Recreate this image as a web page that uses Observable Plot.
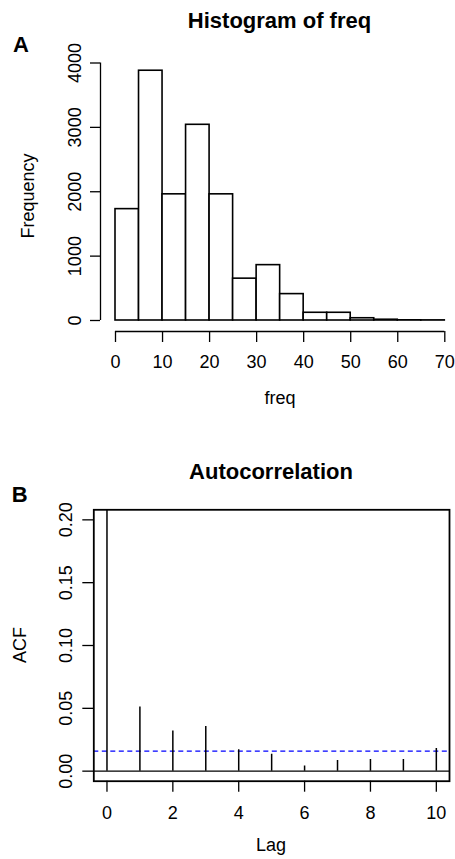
<!DOCTYPE html>
<html>
<head>
<meta charset="utf-8">
<script src="https://cdn.jsdelivr.net/npm/d3@7"></script>
<script src="https://cdn.jsdelivr.net/npm/@observablehq/plot@0.6"></script>
<style>
  html, body { margin: 0; padding: 0; background: #fff; }
  #wrap { position: relative; width: 455px; height: 859px; overflow: hidden;
          font-family: "Liberation Sans", Arial, Helvetica, sans-serif; color: #000; }
  .panel { position: absolute; left: 0; }
  .txt { position: absolute; white-space: nowrap; line-height: 1; }
  .title { font-weight: bold; font-size: 22px; transform: translateX(-50%); }
  .tag { font-weight: bold; font-size: 22px; }
  .xlab { font-size: 18px; transform: translateX(-50%); }
  .ylab { font-size: 18px; transform: translate(-50%, -50%) rotate(-90deg); }
</style>
</head>
<body>
<div id="wrap"></div>
<script>
// ---- Panel A: histogram of freq ----
const histBreaks = [0, 5, 10, 15, 20, 25, 30, 35, 40, 45, 50, 55, 60, 65, 70];
const histCounts = [1730, 3880, 1960, 3040, 1960, 650, 860, 410, 120, 120, 35, 12, 3, 2];
const histXTicks = [0, 10, 20, 30, 40, 50, 60, 70];
const histYTicks = [0, 1000, 2000, 3000, 4000];

// ---- Panel B: autocorrelation ----
const acfLags = [0, 1, 2, 3, 4, 5, 6, 7, 8, 9, 10];
const acfValues = [1, 0.051, 0.032, 0.0355, 0.017, 0.0135, 0.004, 0.0085, 0.0093, 0.0093, 0.018];
const acfConf = 0.016;
const acfXTicks = [0, 2, 4, 6, 8, 10];
const acfYTicks = [0, 0.05, 0.10, 0.15, 0.20];
const acfYLim = [0, 0.2];

const FONT = '"Liberation Sans", Arial, Helvetica, sans-serif';
const wrap = document.getElementById("wrap");

const bins = histCounts.map((c, i) => ({x0: histBreaks[i], x1: histBreaks[i + 1], count: c}));

const hist = Plot.plot({
  width: 455,
  height: 430,
  marginLeft: 100,
  marginRight: 0,
  marginTop: 40,
  marginBottom: 99,
  style: {fontFamily: FONT, fontSize: "18px", color: "#000", background: "#fff", overflow: "visible"},
  x: {domain: [histBreaks[0], histBreaks[histBreaks.length - 1]], range: [115, 444.3]},
  y: {domain: [histYTicks[0], histYTicks[histYTicks.length - 1]], range: [320, 62.5]},
  marks: [
    Plot.rectY(bins, {x1: "x0", x2: "x1", y: "count", fill: "white", stroke: "#000", strokeWidth: 1.6, inset: 0}),
    // y axis line (R draws it from first to last tick)
    Plot.ruleX([histXTicks[0]], {y1: histYTicks[0], y2: histYTicks[histYTicks.length - 1], dx: -15, stroke: "#000", strokeWidth: 1.3}),
    // x axis line
    Plot.ruleY([histYTicks[0]], {x1: histXTicks[0], x2: histXTicks[histXTicks.length - 1], dy: 11, stroke: "#000", strokeWidth: 1.3}),
    Plot.axisY(histYTicks, {anchor: "left", tickSize: 10, tickPadding: 10, tickRotate: -90, fontSize: 18,
      tickFormat: d => String(d), label: null, strokeWidth: 1.3}),
    Plot.axisX(histXTicks, {anchor: "bottom", tickSize: 11, tickPadding: 13, fontSize: 18,
      tickFormat: d => String(d), label: null, strokeWidth: 1.3})
  ]
});
hist.classList.add("panel");
hist.style.top = "0px";
wrap.appendChild(hist);

const acfData = acfLags.map((l, i) => ({lag: l, acf: acfValues[i]}));
const lagExt = d3.extent(acfLags);
const lagPad = 0.04 * (lagExt[1] - lagExt[0]);
const yPad = 0.04 * (acfYLim[1] - acfYLim[0]);

const acf = Plot.plot({
  width: 455,
  height: 429,
  marginLeft: 93.3,
  marginRight: 6,
  marginTop: 79.3,
  marginBottom: 78.3,
  style: {fontFamily: FONT, fontSize: "18px", color: "#000", background: "#fff", overflow: "visible"},
  x: {domain: [lagExt[0] - lagPad, lagExt[1] + lagPad]},
  y: {domain: [acfYLim[0] - yPad, acfYLim[1] + yPad]},
  marks: [
    Plot.ruleY([0], {stroke: "#000", strokeWidth: 1.3}),
    Plot.ruleY([acfConf], {stroke: "#0000ff", strokeWidth: 1.3, strokeDasharray: "5,3.5"}),
    Plot.ruleX(acfData, {x: "lag", y1: 0, y2: "acf", stroke: "#000", strokeWidth: 1.5, clip: true}),
    Plot.frame({stroke: "#000", strokeWidth: 1.8}),
    Plot.axisY(acfYTicks, {anchor: "left", tickSize: 11, tickPadding: 10.5, tickRotate: -90, fontSize: 18,
      tickFormat: d3.format(".2f"), label: null, strokeWidth: 1.3}),
    Plot.axisX(acfXTicks, {anchor: "bottom", tickSize: 11, tickPadding: 14, fontSize: 18,
      tickFormat: d => String(d), label: null, strokeWidth: 1.3})
  ]
});
acf.classList.add("panel");
acf.style.top = "430px";
wrap.appendChild(acf);

// ---- texts (titles, panel tags, axis titles) ----
function addText(cls, text, left, top) {
  const d = document.createElement("div");
  d.className = "txt " + cls;
  d.textContent = text;
  d.style.left = left + "px";
  d.style.top = top + "px";
  wrap.appendChild(d);
}
addText("title", "Histogram of freq", 279.5, 9.7);
addText("tag", "A", 13, 33.7);
addText("xlab", "freq", 280, 389.3);
addText("ylab", "Frequency", 27.8, 196);

addText("title", "Autocorrelation", 271, 461.4);
addText("tag", "B", 11.7, 484.1);
addText("xlab", "Lag", 271, 836);
addText("ylab", "ACF", 19.8, 645);
</script>
</body>
</html>
